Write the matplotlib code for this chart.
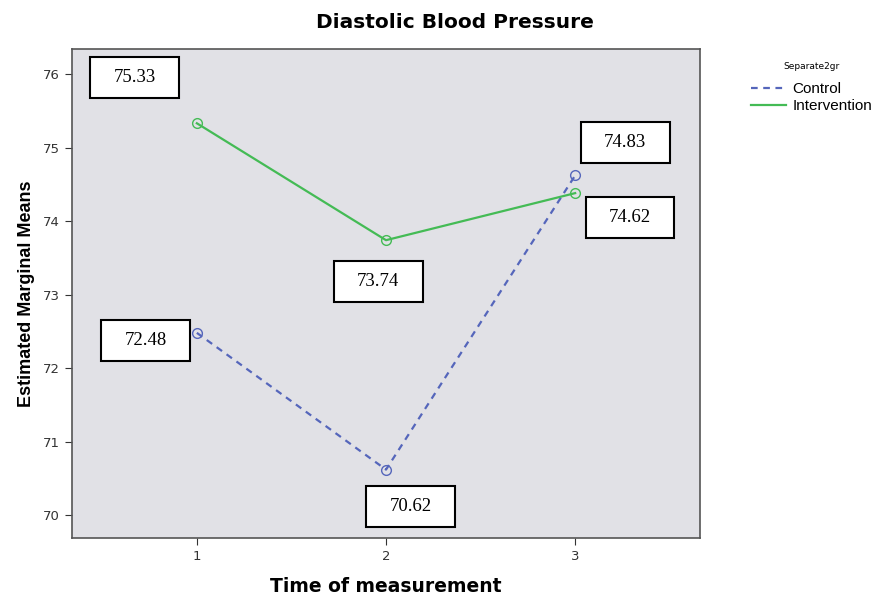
import numpy as np
import matplotlib.pyplot as plt
from matplotlib.patches import Rectangle

# 数据
times = [1, 2, 3]
control = [72.48, 70.62, 74.62]
intervention = [75.33, 73.74, 74.38]

# 标注框（文字和位置）
box_texts = ['75.33', '72.48', '73.74', '70.62', '74.83', '74.62']
box_pos = [(0.672, 75.95), (0.73, 72.38), (1.958, 73.18),
           (2.13, 70.12), (3.265, 75.07), (3.29, 74.05)]

fig = plt.figure(figsize=(8.74, 5.97), dpi=100)
ax = fig.add_axes([72/874, 1-538/597, 628/874, 489/597])
ax.set_facecolor('#e1e1e6')

ax.plot(times, control, '--', color='#5566bb', lw=1.6, dashes=(3, 2.5),
        marker='o', mfc='none', mec='#5566bb', ms=7, label='Control')
ax.plot(times, intervention, '-', color='#44bb55', lw=1.6,
        marker='o', mfc='none', mec='#44bb55', ms=7, label='Intervention')

w, h = 0.47, 0.56
for t, (x, y) in zip(box_texts, box_pos):
    ax.add_patch(Rectangle((x - w/2, y - h/2), w, h, facecolor='white',
                           edgecolor='black', lw=1.5, zorder=5))
    ax.text(x, y, t, ha='center', va='center', fontsize=13.5,
            family='Liberation Serif', zorder=6)

ax.set_xlim(0.34, 3.66)
ax.set_ylim(69.69, 76.34)
ax.set_xticks(times)
ax.set_yticks(range(70, 77))
ax.tick_params(labelsize=9.5, colors='#333333', length=5)
for s in ax.spines.values():
    s.set_color('#555555')
    s.set_linewidth(1.2)

ax.set_xlabel('Time of measurement', fontsize=13.5, fontweight='bold',
              family='DejaVu Sans', labelpad=10)
ax.set_ylabel('Estimated Marginal Means', fontsize=13, fontweight='bold',
              family=['Liberation Sans Narrow', 'Liberation Sans'], labelpad=6)
fig.text(455/874, 1-22/597, 'Diastolic Blood Pressure', ha='center', va='center',
         fontsize=14.5, fontweight='bold', family='DejaVu Sans')

leg = fig.legend(loc='upper left', bbox_to_anchor=(745/874, 1-56/597),
                 title='Separate2gr', frameon=False, fontsize=11,
                 handlelength=2.3, handletextpad=0.4, labelspacing=0.2,
                 borderaxespad=0)
leg.get_title().set_fontsize(6.5)
leg._legend_box.sep = 8
for l in leg.get_lines():
    l.set_marker('')
for tx in leg.get_texts():
    tx.set_family('Liberation Sans')

fig.savefig('out.png', dpi=100)
